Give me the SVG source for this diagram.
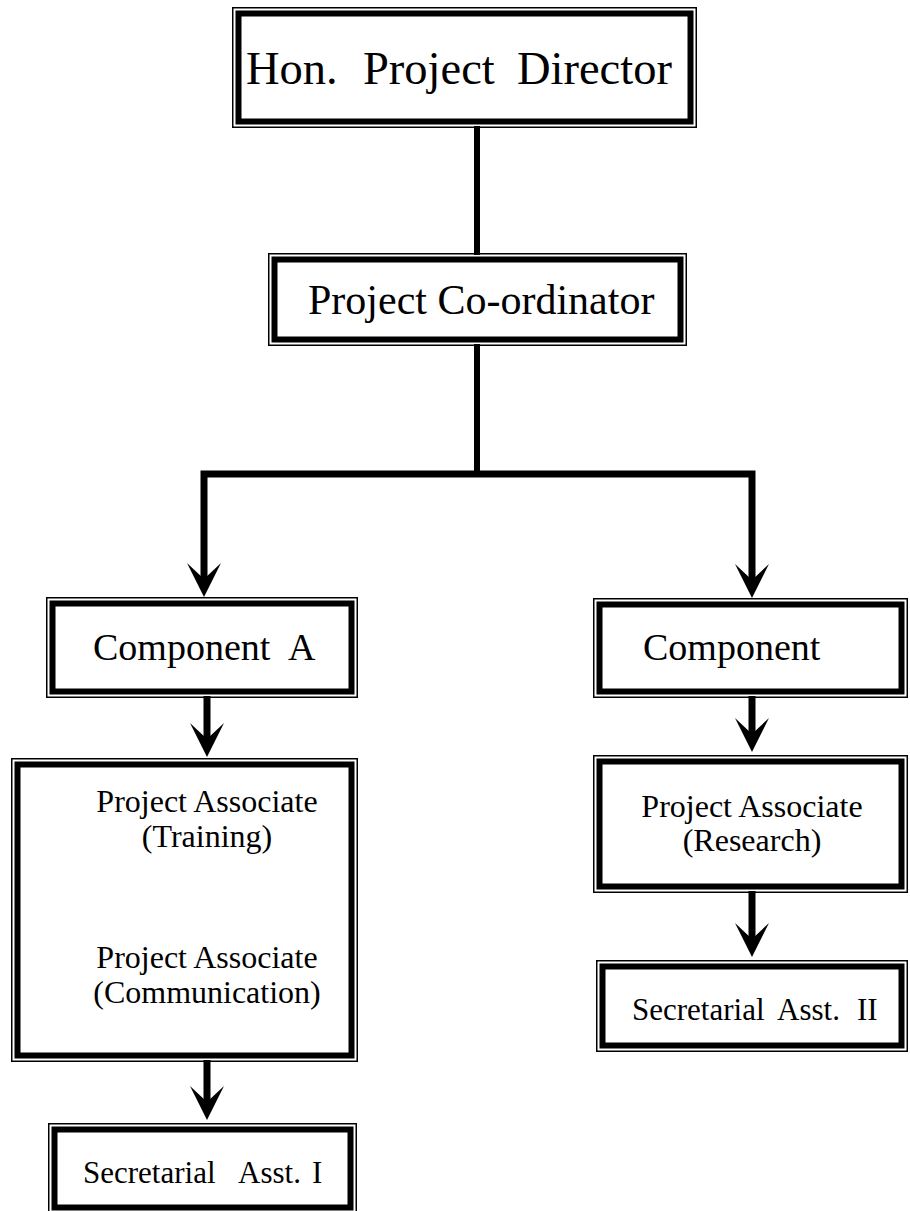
<svg xmlns="http://www.w3.org/2000/svg" width="910" height="1211" viewBox="0 0 910 1211">
  <style>
    .thin { fill: none; stroke: #000; stroke-width: 1.5; }
    .thick { fill: #fff; stroke: #000; stroke-width: 6; }
    .lbl { font-family: "Liberation Serif", "Times New Roman", serif; fill: #000; white-space: pre; }
    .wire { fill: none; stroke: #000; stroke-width: 7; stroke-linejoin: miter; stroke-linecap: butt; }
    .arrow { marker-end: url(#head); }
  </style>
  <defs>
    <!-- notched arrowhead; refX sits at the notch so the shaft ends inside it -->
    <marker id="head" viewBox="0 0 34 34" markerWidth="34" markerHeight="34" markerUnits="userSpaceOnUse" refX="16" refY="17" orient="auto">
      <path d="M0,0 Q18,9 34,17 Q18,25 0,34 L16,17 Z" fill="#000"/>
    </marker>
  </defs>
  <rect width="910" height="1211" fill="#fff"/>

  <!-- connectors -->
  <g id="connectors">
    <line class="wire" x1="477" y1="126" x2="477" y2="255" style="stroke-width:6"/>
    <line class="wire" x1="477" y1="344" x2="477" y2="474" style="stroke-width:6"/>
    <path class="wire arrow" d="M477,474 H204 V579"/>
    <path class="wire arrow" d="M477,474 H752 V580"/>
    <line class="wire arrow" x1="207" y1="696" x2="207" y2="739"/>
    <line class="wire arrow" x1="752" y1="696" x2="752" y2="734"/>
    <line class="wire arrow" x1="752" y1="891" x2="752" y2="939"/>
    <line class="wire arrow" x1="207" y1="1060" x2="207" y2="1102"/>
  </g>

  <!-- Hon. Project Director -->
  <g id="director">
    <rect class="thin" x="232.75" y="7.75" width="463.5" height="119.5"/>
    <rect class="thick" x="238.5" y="13.5" width="452" height="108"/>
    <text class="lbl" y="84" font-size="46.5"><tspan x="246">Hon.</tspan><tspan x="363">Project</tspan><tspan x="517">Director</tspan></text>
  </g>

  <!-- Project Co-ordinator -->
  <g id="coordinator">
    <rect class="thin" x="268.75" y="253.75" width="417.5" height="91.5"/>
    <rect class="thick" x="274.5" y="259.5" width="406" height="80"/>
    <text class="lbl" x="308" y="314" font-size="42">Project Co-ordinator</text>
  </g>

  <!-- Component A -->
  <g id="component-a">
    <rect class="thin" x="46.75" y="597.75" width="310.5" height="99.5"/>
    <rect class="thick" x="52.5" y="603.5" width="299" height="88"/>
    <text class="lbl" y="660" font-size="38"><tspan x="93">Component</tspan><tspan x="288">A</tspan></text>
  </g>

  <!-- Component (right) -->
  <g id="component-b">
    <rect class="thin" x="593.75" y="598.75" width="313.5" height="98.5"/>
    <rect class="thick" x="599.5" y="604.5" width="302" height="87"/>
    <text class="lbl" x="643" y="660" font-size="38">Component</text>
  </g>

  <!-- Project Associates (Training / Communication) -->
  <g id="associates-a">
    <rect class="thin" x="11.75" y="758.75" width="345.5" height="302.5"/>
    <rect class="thick" x="17.5" y="764.5" width="334" height="291"/>
    <text class="lbl" x="207" y="812" font-size="32" text-anchor="middle">Project Associate</text>
    <text class="lbl" x="207" y="847" font-size="32" text-anchor="middle">(Training)</text>
    <text class="lbl" x="207" y="968" font-size="32" text-anchor="middle">Project Associate</text>
    <text class="lbl" x="207" y="1003" font-size="32" text-anchor="middle">(Communication)</text>
  </g>

  <!-- Project Associate (Research) -->
  <g id="associate-b">
    <rect class="thin" x="593.75" y="755.75" width="313.5" height="136.5"/>
    <rect class="thick" x="599.5" y="761.5" width="302" height="125"/>
    <text class="lbl" x="752" y="817" font-size="32" text-anchor="middle">Project Associate</text>
    <text class="lbl" x="752" y="851" font-size="32" text-anchor="middle">(Research)</text>
  </g>

  <!-- Secretarial Asst. II -->
  <g id="secretarial-2">
    <rect class="thin" x="596.75" y="960.75" width="310.5" height="90.5"/>
    <rect class="thick" x="602.5" y="966.5" width="299" height="79"/>
    <text class="lbl" y="1020" font-size="31"><tspan x="632">Secretarial</tspan><tspan x="777">Asst.</tspan><tspan x="857">II</tspan></text>
  </g>

  <!-- Secretarial Asst. I -->
  <g id="secretarial-1">
    <rect class="thin" x="48.75" y="1123.75" width="307.5" height="90"/>
    <rect class="thick" x="54.5" y="1129.5" width="296" height="78"/>
    <text class="lbl" y="1183" font-size="31"><tspan x="83">Secretarial</tspan><tspan x="238">Asst.</tspan><tspan x="312">I</tspan></text>
  </g>
</svg>
